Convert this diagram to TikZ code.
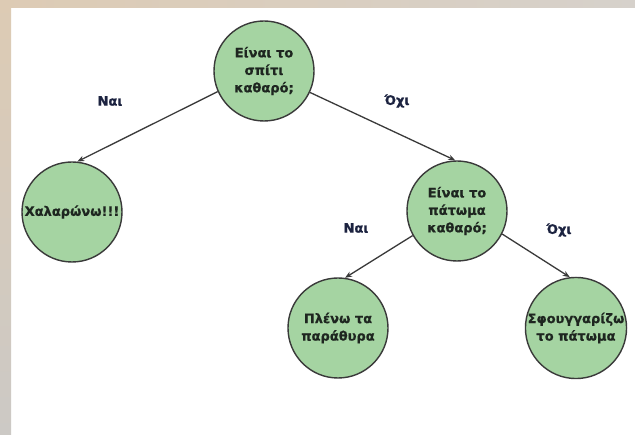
\documentclass[tikz,border=0pt]{standalone}
\usepackage{fontspec}
\setmainfont{DejaVu Sans}[BoldFeatures={FakeBold=0.6}]
\usetikzlibrary{arrows.meta}
\definecolor{leaf}{HTML}{A5D4A2}
\definecolor{rim}{HTML}{3A3A3A}
\definecolor{ink}{HTML}{1E2620}
\definecolor{lbl}{HTML}{1C2340}
\definecolor{bandtop}{HTML}{DDCBB4}
\definecolor{bandright}{HTML}{D6D1CB}
\definecolor{stripbot}{HTML}{CCC9C5}
\tikzset{
  decision/.style={circle, draw=rim, line width=1.4pt, fill=leaf,
    minimum size=100pt, inner sep=0pt, align=center, text=ink,
    font=\fontsize{13}{17.5}\selectfont\bfseries},
  branch/.style={draw=rim, line width=1.3pt,
    -{Stealth[length=7pt,width=5.5pt]}},
  answer/.style={text=lbl, font=\fontsize{13}{15}\selectfont\bfseries}
}
\begin{document}
\begin{tikzpicture}[x=1pt,y=-1pt]
  % page and frame
  \useasboundingbox (0,0) rectangle (635,435);
  \fill[white] (0,0) rectangle (635,435);
  \shade[left color=bandtop, right color=bandright] (0,0) rectangle (635,8);
  \shade[top color=bandtop, bottom color=stripbot] (0,0) rectangle (11,435);

  % question and action nodes
  \node[decision] (house) at (264,71) {Είναι το\\σπίτι\\καθαρό;};
  \node[decision] (relax) at (72,212) {Χαλαρώνω!!!};
  \node[decision] (floor) at (457,211) {Είναι το\\πάτωμα\\καθαρό;};
  \node[decision] (windows) at (338,328) {Πλένω τα\\παράθυρα};
  \node[decision] (mop) at (576,328) {Σφουγγαρίζω\\το πάτωμα};

  % branches
  \draw[branch] (house.204) -- (relax.84);
  \draw[branch] (house.335) -- (floor.92);
  \draw[branch] (floor.209) -- (windows.82);
  \draw[branch] (floor.333) -- (mop.97);

  % branch answers
  \node[answer] (yes1) at (110,101) {Ναι};
  \node[answer] (no1) at (397,101) {Όχι};
  \node[answer] (yes2) at (356,228) {Ναι};
  \node[answer] (no2) at (559,230) {Όχι};
\end{tikzpicture}
\end{document}
